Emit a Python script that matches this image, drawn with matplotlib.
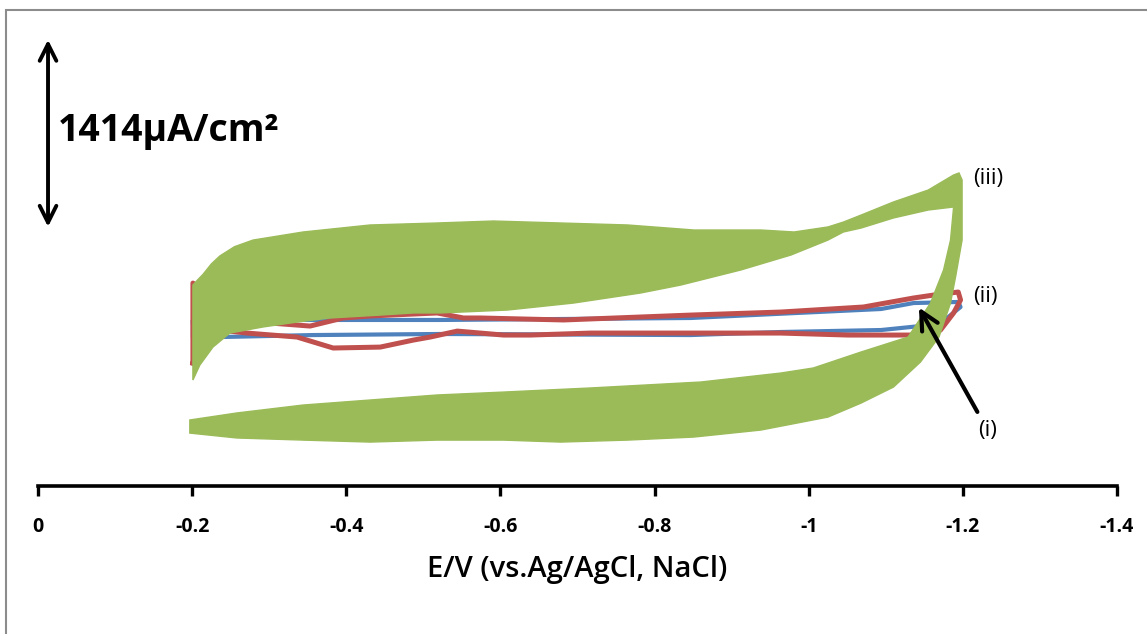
import numpy as np
import matplotlib.pyplot as plt
from matplotlib.patches import Polygon, Rectangle

plt.rcParams['font.family'] = ['Open Sans', 'DejaVu Sans']

# ── Data: potential E (V vs Ag/AgCl) and current density j (uA/cm2) ──────────
# (i) blue loop
blue_E = [-0.201, -0.314, -0.522, -0.847, -1.094, -1.136, -1.194, -1.197,
          -1.181, -1.158, -1.094, -0.964, -0.847, -0.522, -0.357, -0.236,
          -0.201, -0.201]
blue_j = [60, 76, 76, 91, 159, 204, 212, 174,
          98, 38, 0, -15, -38, -30, -38, -53,
          -53, 60]

# (ii) red loop
red_E = [-0.201, -0.201, -0.236, -0.275, -0.301, -0.353, -0.396, -0.431,
         -0.518, -0.552, -0.574, -0.682, -0.847, -0.964, -1.071, -1.136,
         -1.171, -1.194, -1.197, -1.188, -1.171, -1.136, -1.051, -0.964,
         -0.847, -0.717, -0.639, -0.604, -0.544, -0.509, -0.487, -0.444,
         -0.383, -0.336, -0.271, -0.236, -0.210, -0.201]
red_j = [-249, 355, 189, 91, 53, 30, 91, 106,
         129, 91, 91, 76, 113, 136, 174, 242,
         272, 287, 227, 129, 0, -38, -38, -23,
         -23, -23, -38, -38, -8, -53, -76, -129,
         -136, -53, -23, 0, -60, -249]

# (iii) green band: outline of the overlapping cycles
green_E = [
    # upper edge of forward sweep
    -0.201, -0.207, -0.214, -0.225, -0.236, -0.255, -0.279, -0.344,
    -0.431, -0.518, -0.591, -0.678, -0.765, -0.851, -0.938, -0.981,
    -1.025, -1.045, -1.068, -1.110, -1.155, -1.188, -1.195,
    # outer switching edge and bottom of reverse sweep
    -1.199, -1.199, -1.191, -1.184, -1.169, -1.145, -1.110, -1.068,
    -1.025, -0.938, -0.851, -0.765, -0.678, -0.604, -0.518, -0.431,
    -0.344, -0.258, -0.197, -0.197,
    # top of reverse sweep band
    -0.258, -0.344, -0.431, -0.518, -0.604, -0.717, -0.860, -0.964,
    -1.006, -1.068, -1.129, -1.158, -1.175, -1.184, -1.188,
    # lower edge of forward sweep band
    -1.155, -1.110, -1.068, -1.045, -1.025, -0.977, -0.912, -0.834,
    -0.782, -0.695, -0.609, -0.522, -0.487, -0.444, -0.379, -0.336,
    -0.292, -0.249, -0.227, -0.210, -0.204, -0.201,
]
green_j = [
    340, 378, 420, 500, 560, 630, 680, 741,
    794, 809, 824, 809, 794, 756, 756, 741,
    779, 816, 869, 968, 1058, 1172, 1187,
    1134, 680, 416, 204, -53, -242, -431, -552,
    -658, -756, -809, -832, -847, -832, -832, -847,
    -832, -816, -779, -680,
    -627, -567, -529, -491, -469, -438, -393, -325,
    -287, -166, -53, 204, 454, 680, 930,
    907, 847, 771, 741, 680, 567, 454, 340,
    280, 204, 151, 129, 129, 113, 91, 60,
    23, -23, -129, -265, -340, -378,
]

x_ticks = [0, -0.2, -0.4, -0.6, -0.8, -1.0, -1.2, -1.4]
x_labels = ['0', '-0.2', '-0.4', '-0.6', '-0.8', '-1', '-1.2', '-1.4']

scale_bottom = 780     # uA/cm2
scale_len = 1414       # uA/cm2

# ── Figure ────────────────────────────────────────────────────────────────────
W, H = 1147, 634
fig = plt.figure(figsize=(W / 100, H / 100), dpi=100)
ax = fig.add_axes([38 / W, 1 - 486 / H, (1117 - 38) / W, (486 - 10) / H])
ax.set_xlim(0, -1.4)
ax.set_ylim(-1179, 2419)

ax.plot(blue_E, blue_j, color='#4F81BD', lw=3.0, zorder=2, solid_joinstyle='round')
ax.plot(red_E, red_j, color='#C0504D', lw=3.6, zorder=3, solid_joinstyle='round')
ax.add_patch(Polygon(np.column_stack([green_E, green_j]), closed=True,
                     fc='#9BBB59', ec='#9BBB59', lw=1.0, zorder=4))

# axis styling: only the bottom spine
for s in ['left', 'right', 'top']:
    ax.spines[s].set_visible(False)
ax.spines['bottom'].set_linewidth(2.6)
ax.set_yticks([])
ax.set_xticks(x_ticks)
ax.set_xticklabels(x_labels, fontsize=14, fontweight='bold')
ax.tick_params(axis='x', direction='out', length=7, width=2.4, pad=15)
ax.set_xlabel('E/V (vs.Ag/AgCl, NaCl)', fontsize=21, fontweight='semibold',
              labelpad=13)

# scale bar
ax.annotate('', xy=(-0.013, scale_bottom), xytext=(-0.013, scale_bottom + scale_len),
            arrowprops=dict(arrowstyle='<->', lw=2.8, color='black',
                            mutation_scale=30, shrinkA=0, shrinkB=0))
ax.text(-0.026, scale_bottom + scale_len / 2 + 20, '1414μA/cm²',
        fontsize=27, fontweight='bold', ha='left', va='center')

# curve labels
ax.text(-1.213, 1142, '(iii)', fontsize=16, ha='left', va='center')
ax.text(-1.213, 250, '(ii)', fontsize=16, ha='left', va='center')
ax.annotate('(i)', xy=(-1.143, 170), xytext=(-1.232, -756),
            fontsize=16, ha='center', va='center', zorder=6,
            arrowprops=dict(arrowstyle='->', lw=3.0, color='black',
                            mutation_scale=32, shrinkA=4, shrinkB=0))

# grey frame round the chart
fig.patches.append(Rectangle((6 / W, -0.05), 1.2, 1.05 - 10 / H,
                             transform=fig.transFigure, fill=False,
                             ec='#8c8c8c', lw=1.5))

fig.savefig('out.png', dpi=100)
